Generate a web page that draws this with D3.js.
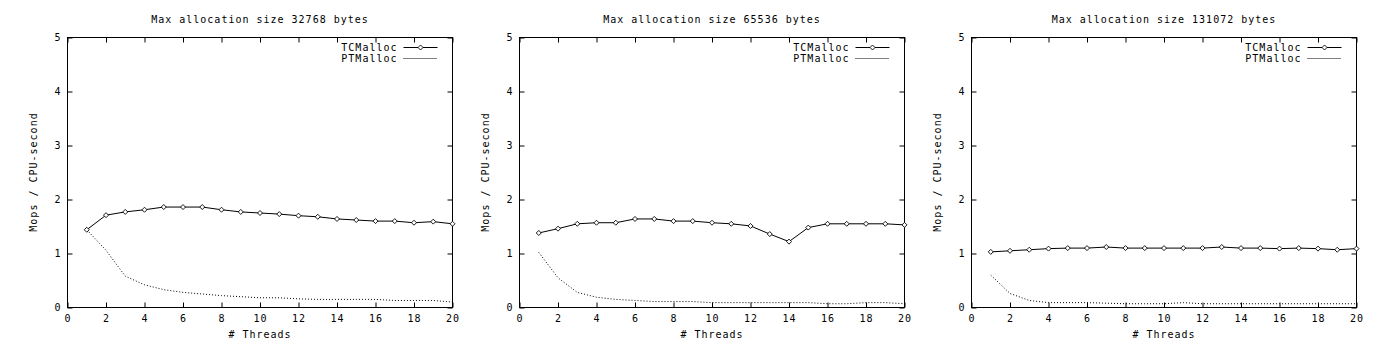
<!DOCTYPE html>
<html>
<head>
<meta charset="utf-8">
<script src="https://cdn.jsdelivr.net/npm/d3@7/dist/d3.min.js"></script>
<style>
  html, body { margin: 0; padding: 0; background: #fff; }
  svg { display: block; }
  text { font-family: "DejaVu Sans Mono", monospace; font-size: 10px; letter-spacing: 1px; fill: #000; }
</style>
</head>
<body>
<svg id="chart" width="1398" height="355"></svg>
<script>
const threads = d3.range(1, 21);
const titles = ["Max allocation size 32768 bytes", "Max allocation size 65536 bytes", "Max allocation size 131072 bytes"];
const seriesNames = ["TCMalloc", "PTMalloc"];
const xTicks = [0, 2, 4, 6, 8, 10, 12, 14, 16, 18, 20];
const yTicks = [0, 1, 2, 3, 4, 5];

const tc32k = [1.44, 1.71, 1.77, 1.81, 1.86, 1.86, 1.86, 1.81, 1.77, 1.75, 1.73, 1.70, 1.68, 1.64, 1.62, 1.60, 1.60, 1.57, 1.59, 1.55];
const pt32k = [1.44, 1.06, 0.58, 0.42, 0.33, 0.28, 0.25, 0.22, 0.20, 0.18, 0.18, 0.16, 0.15, 0.15, 0.15, 0.15, 0.13, 0.13, 0.13, 0.10];
const tc64k = [1.38, 1.46, 1.55, 1.57, 1.57, 1.64, 1.64, 1.60, 1.60, 1.57, 1.55, 1.51, 1.36, 1.22, 1.48, 1.55, 1.55, 1.55, 1.55, 1.53];
const pt64k = [1.02, 0.55, 0.28, 0.19, 0.15, 0.13, 0.11, 0.11, 0.11, 0.09, 0.09, 0.09, 0.09, 0.09, 0.09, 0.07, 0.07, 0.09, 0.09, 0.07];
const tc128k = [1.03, 1.05, 1.07, 1.09, 1.10, 1.10, 1.12, 1.10, 1.10, 1.10, 1.10, 1.10, 1.12, 1.10, 1.10, 1.09, 1.10, 1.09, 1.07, 1.09];
const pt128k = [0.60, 0.26, 0.13, 0.09, 0.09, 0.09, 0.08, 0.07, 0.07, 0.07, 0.09, 0.07, 0.07, 0.07, 0.07, 0.07, 0.07, 0.07, 0.07, 0.07];

const panels = [
  { title: titles[0], tc: tc32k, pt: pt32k },
  { title: titles[1], tc: tc64k, pt: pt64k },
  { title: titles[2], tc: tc128k, pt: pt128k }
];

const svg = d3.select("#chart");
const plotTop = 37.5, plotBottom = 307.5, W = 385, tickLen = 5;

panels.forEach((p, i) => {
  const left = 67.5 + i * 452;
  const x = d3.scaleLinear().domain([0, 20]).range([left, left + W]);
  const y = d3.scaleLinear().domain([0, 5]).range([plotBottom, plotTop]);
  const g = svg.append("g");

  // frame
  g.append("rect").attr("x", left).attr("y", plotTop).attr("width", W).attr("height", plotBottom - plotTop)
    .attr("fill", "none").attr("stroke", "#000").attr("stroke-width", 1);

  // axes via d3 (inward ticks)
  const xb = g.append("g").attr("transform", `translate(0,${plotBottom})`)
    .call(d3.axisBottom(x).tickValues(xTicks).tickFormat(d3.format("d")).tickSizeInner(-tickLen).tickSizeOuter(0).tickPadding(12));
  const xt = g.append("g").attr("transform", `translate(0,${plotTop})`)
    .call(d3.axisTop(x).tickValues(xTicks).tickSizeInner(-tickLen).tickSizeOuter(0).tickFormat(""));
  const yl = g.append("g").attr("transform", `translate(${left},0)`)
    .call(d3.axisLeft(y).tickValues(yTicks).tickFormat(d3.format("d")).tickSizeInner(-tickLen).tickSizeOuter(0).tickPadding(12));
  const yr = g.append("g").attr("transform", `translate(${left + W},0)`)
    .call(d3.axisRight(y).tickValues(yTicks).tickSizeInner(-tickLen).tickSizeOuter(0).tickFormat(""));
  [xb, xt, yl, yr].forEach(a => {
    a.select(".domain").remove();
    a.selectAll("line").attr("stroke", "#000");
    a.attr("font-family", null).attr("font-size", null);
  });
  xb.selectAll("text").attr("dy", "0.71em").attr("y", 7);
  yl.selectAll("text").attr("x", -6);

  // title
  g.append("text").attr("x", left + W / 2).attr("y", 23).attr("text-anchor", "middle").text(p.title);
  // axis labels
  g.append("text").attr("x", left + W / 2).attr("y", 338).attr("text-anchor", "middle").text("# Threads");
  g.append("text").attr("transform", `translate(${left - 31},172) rotate(-90)`).attr("text-anchor", "middle").text("Mops / CPU-second");

  const line = d3.line().x((d, j) => x(threads[j])).y(d => y(d));

  // PTMalloc dotted
  g.append("path").datum(p.pt).attr("d", line).attr("fill", "none")
    .attr("stroke", "#000").attr("stroke-width", 1).attr("stroke-dasharray", "1,2");
  // TCMalloc solid with diamonds
  g.append("path").datum(p.tc).attr("d", line).attr("fill", "none")
    .attr("stroke", "#000").attr("stroke-width", 1);
  const diamond = "M0,-2.5L2.5,0L0,2.5L-2.5,0Z";
  g.selectAll(".pt").data(p.tc).enter().append("path")
    .attr("transform", (d, j) => `translate(${x(threads[j])},${y(d)})`)
    .attr("d", diamond).attr("fill", "#fff").attr("stroke", "#000").attr("stroke-width", 0.9);

  // legend
  const lx1 = left + 336, lx2 = left + 370;
  const ly = [47, 58];
  g.append("text").attr("x", left + 330).attr("y", ly[0] + 3.5).attr("text-anchor", "end").text(seriesNames[0]);
  g.append("text").attr("x", left + 330).attr("y", ly[1] + 3.5).attr("text-anchor", "end").text(seriesNames[1]);
  g.append("line").attr("x1", lx1).attr("x2", lx2).attr("y1", ly[0] + 0.5).attr("y2", ly[0] + 0.5).attr("stroke", "#000");
  g.append("path").attr("transform", `translate(${(lx1 + lx2) / 2},${ly[0] + 0.5})`).attr("d", diamond)
    .attr("fill", "#fff").attr("stroke", "#000").attr("stroke-width", 0.9);
  g.append("line").attr("x1", lx1).attr("x2", lx2).attr("y1", ly[1] + 0.5).attr("y2", ly[1] + 0.5)
    .attr("stroke", "#000").attr("stroke-dasharray", "1,1");
});
</script>
</body>
</html>
